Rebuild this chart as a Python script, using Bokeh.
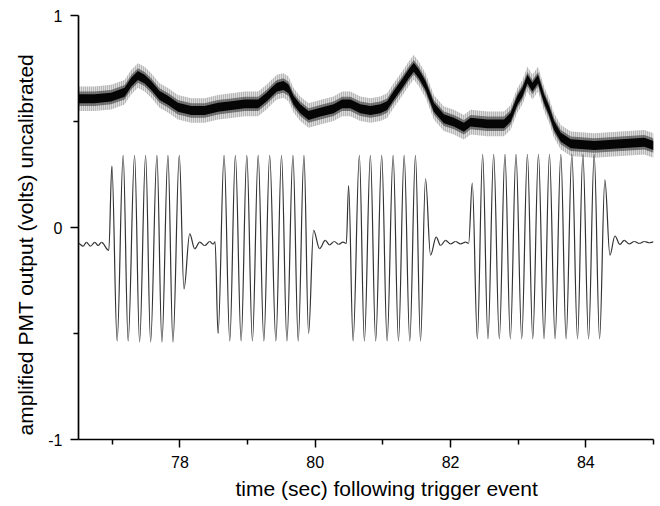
import numpy as np
from bokeh.plotting import figure
from bokeh.models import FixedTicker, Title, ColumnDataSource
from bokeh.embed import file_html
from bokeh.resources import INLINE

# ---------------- data ----------------
# upper noisy PMT trace: centre line of the noisy band
pmt_t = [76.50, 76.736, 76.982, 77.181, 77.279, 77.378, 77.477, 77.575, 77.699, 77.822,
         77.970, 78.167, 78.366, 78.563, 78.760, 78.959, 79.156, 79.279, 79.378, 79.433,
         79.530, 79.604, 79.679, 79.778, 79.901, 80.074, 80.271, 80.396, 80.519, 80.667,
         80.815, 80.963, 81.062, 81.160, 81.284, 81.382, 81.456, 81.530, 81.630, 81.753,
         81.901, 82.049, 82.197, 82.296, 82.544, 82.790, 82.889, 82.988, 83.062, 83.136,
         83.210, 83.293, 83.382, 83.456, 83.530, 83.630, 83.778, 84.123, 84.519, 84.864, 85.0]
pmt_v = [0.607, 0.607, 0.615, 0.638, 0.685, 0.717, 0.700, 0.670, 0.623, 0.600,
         0.567, 0.552, 0.552, 0.567, 0.575, 0.583, 0.583, 0.615, 0.646, 0.662,
         0.670, 0.654, 0.600, 0.560, 0.528, 0.544, 0.560, 0.583, 0.583, 0.560,
         0.552, 0.560, 0.575, 0.623, 0.678, 0.725, 0.756, 0.725, 0.670, 0.567,
         0.513, 0.497, 0.473, 0.497, 0.489, 0.489, 0.520, 0.600, 0.638, 0.700,
         0.662, 0.700, 0.607, 0.552, 0.481, 0.426, 0.395, 0.387, 0.395, 0.402, 0.387]

# lower stimulus trace: successive turning points (peaks / troughs)
osc_t = [76.500, 76.567, 76.618, 76.677, 76.741, 76.790, 76.840, 76.948,
         76.993, 77.071, 77.160, 77.234, 77.329, 77.403, 77.492, 77.566, 77.659, 77.733,
         77.822, 77.896, 77.990, 78.059, 78.144, 78.218, 78.292, 78.366, 78.440, 78.489, 78.519,
         78.563, 78.652, 78.736, 78.819, 78.904, 78.988, 79.071, 79.156, 79.240, 79.326,
         79.418, 79.501, 79.581, 79.670, 79.748, 79.833, 79.901, 79.975, 80.064,
         80.148, 80.212, 80.281, 80.345, 80.410, 80.459,
         80.493, 80.559, 80.652, 80.726, 80.815, 80.893, 80.982, 81.062, 81.151, 81.230,
         81.314, 81.397, 81.481, 81.556, 81.630, 81.704, 81.788, 81.852,
         81.926, 82.000, 82.074, 82.148, 82.222, 82.267,
         82.321, 82.396, 82.474, 82.553, 82.637, 82.721, 82.804, 82.884, 82.967, 83.052,
         83.136, 83.215, 83.299, 83.382, 83.462, 83.545, 83.630, 83.708, 83.793, 83.877,
         83.956, 84.040, 84.123, 84.203, 84.281, 84.356, 84.430, 84.504,
         84.567, 84.641, 84.716, 84.790, 84.864, 84.938, 85.000]
osc_v = [-0.075, -0.088, -0.070, -0.088, -0.070, -0.085, -0.070, -0.108,
         0.290, -0.535, 0.340, -0.535, 0.340, -0.540, 0.340, -0.540, 0.340, -0.540,
         0.340, -0.540, 0.340, -0.290, -0.030, -0.100, -0.069, -0.085, -0.066, -0.078, -0.068,
         -0.500, 0.340, -0.535, 0.340, -0.535, 0.340, -0.535, 0.340, -0.535, 0.340,
         -0.535, 0.340, -0.535, 0.340, -0.535, 0.340, -0.500, -0.014, -0.100,
         -0.061, -0.082, -0.066, -0.079, -0.069, -0.075,
         0.198, -0.535, 0.340, -0.535, 0.340, -0.535, 0.340, -0.535, 0.340, -0.535,
         0.340, -0.535, 0.340, -0.535, 0.230, -0.130, -0.045, -0.085,
         -0.061, -0.077, -0.066, -0.077, -0.069, -0.075,
         0.210, -0.525, 0.345, -0.525, 0.345, -0.525, 0.345, -0.525, 0.345, -0.525,
         0.345, -0.525, 0.345, -0.525, 0.345, -0.525, 0.345, -0.525, 0.345, -0.525,
         0.345, -0.525, 0.345, -0.525, 0.225, -0.130, -0.040, -0.080,
         -0.061, -0.077, -0.066, -0.075, -0.066, -0.072, -0.068]

x_ticks = [78, 80, 82, 84]
x_minor = [77, 79, 81, 83, 85]
y_ticks = [-1, 0, 1]
y_minor = [-0.5, 0.5]
x_title = "time (sec) following trigger event"
y_title = "amplified PMT output (volts) uncalibrated"

FONT = "Liberation Sans"

p = figure(width=660, height=506, x_range=(76.5, 85), y_range=(-1, 1),
           output_backend="svg", toolbar_location=None,
           min_border_left=78, min_border_right=7, min_border_top=15, min_border_bottom=67)
p.outline_line_color = None
p.xgrid.grid_line_color = None
p.ygrid.grid_line_color = None
p.background_fill_color = "white"
p.border_fill_color = "white"

# noisy band for the PMT trace
pt = np.array(pmt_t)
pv = np.array(pmt_v)
p.varea(x=pt, y1=pv - 0.058, y2=pv + 0.058, fill_color="#9a9a9a", fill_alpha=0.35,
        hatch_pattern="vertical_line", hatch_color="#333333", hatch_scale=2,
        hatch_weight=0.8, hatch_alpha=0.55)
p.varea(x=pt, y1=pv - 0.034, y2=pv + 0.034, fill_color="#444444", fill_alpha=0.65)
p.varea(x=pt, y1=pv - 0.021, y2=pv + 0.021, fill_color="black", fill_alpha=0.95)

# stimulus trace: smooth curves between turning points
ot = np.array(osc_t)
ov = np.array(osc_v)
k = 0.3642
dx = ot[1:] - ot[:-1]
src = ColumnDataSource(dict(x0=ot[:-1], y0=ov[:-1], x1=ot[1:], y1=ov[1:],
                            cx0=ot[:-1] + k * dx, cy0=ov[:-1],
                            cx1=ot[1:] - k * dx, cy1=ov[1:]))
p.bezier(x0="x0", y0="y0", x1="x1", y1="y1", cx0="cx0", cy0="cy0", cx1="cx1", cy1="cy1",
         source=src, line_color="#333333", line_width=1.2)

for ax, ticks, minor in ((p.xaxis[0], x_ticks, x_minor), (p.yaxis[0], y_ticks, y_minor)):
    ax.ticker = FixedTicker(ticks=ticks, minor_ticks=minor)
    ax.axis_line_width = 1.7
    ax.axis_line_color = "black"
    ax.major_tick_in = 0
    ax.major_tick_out = 8
    ax.minor_tick_in = 0
    ax.minor_tick_out = 5
    ax.major_tick_line_width = 1.5
    ax.minor_tick_line_width = 1.5
    ax.major_tick_line_color = "black"
    ax.minor_tick_line_color = "black"
    ax.major_label_text_font = FONT
    ax.major_label_text_font_size = "16px"
    ax.major_label_text_color = "black"

p.xaxis.major_label_standoff = 8
p.yaxis.major_label_standoff = 8
p.yaxis.major_label_overrides = {-1: "-1", 0: "0", 1: "1"}
p.xaxis.major_label_overrides = {78: "78", 80: "80", 82: "82", 84: "84"}

tx = Title(text=x_title, align="left", offset=157, text_font=FONT, text_font_size="21px",
           text_font_style="normal", text_color="black", standoff=9)
p.add_layout(tx, "below")
ty = Title(text=y_title, align="left", offset=4, text_font=FONT, text_font_size="21px",
           text_font_style="normal", text_color="black", standoff=17)
p.add_layout(ty, "left")

open("out.html", "w").write(file_html(p, INLINE))
